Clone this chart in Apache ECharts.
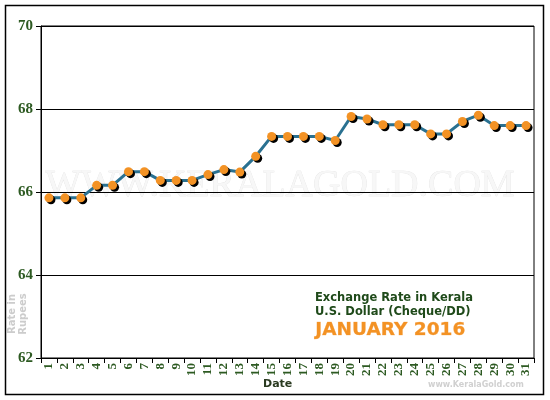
<!DOCTYPE html>
<html>
<head>
<meta charset="utf-8">
<script src="https://cdn.jsdelivr.net/npm/echarts@6/dist/echarts.min.js"></script>
<style>html,body{margin:0;padding:0;background:#fff;}#c{width:550px;height:400px;}</style>
</head>
<body>
<div id="c"></div>
<script>
var days = ['1','2','3','4','5','6','7','8','9','10','11','12','13','14','15','16','17','18','19','20','21','22','23','24','25','26','27','28','29','30','31'];
var rates = [65.86,65.86,65.86,66.16,66.16,66.49,66.49,66.28,66.28,66.28,66.42,66.54,66.48,66.86,67.34,67.34,67.34,67.34,67.24,67.82,67.76,67.62,67.62,67.62,67.40,67.40,67.70,67.85,67.60,67.60,67.60];
var yTicks = [62,64,66,68,70];

var chart = echarts.init(document.getElementById('c'));
var green = '#2d5a22';
chart.setOption({
  animation: false,
  grid: {left: 41, right: 16, top: 26, bottom: 42, show: true, borderColor: '#000', borderWidth: 1},
  xAxis: {
    type: 'category', data: days, boundaryGap: true,
    axisLine: {lineStyle: {color: '#000', width: 1}},
    axisTick: {show: true, length: 5, lineStyle: {color: '#000'}},
    axisLabel: {rotate: 90, color: green, fontFamily: 'Liberation Serif', fontWeight: 'bold', fontSize: 13, margin: 5, interval: 0}
  },
  yAxis: {
    type: 'value', min: yTicks[0], max: yTicks[yTicks.length-1], interval: 2,
    axisLine: {show: true, lineStyle: {color: '#000', width: 1}},
    axisTick: {show: true, length: 5, lineStyle: {color: '#000'}},
    splitLine: {show: true, lineStyle: {color: '#000', width: 1}},
    axisLabel: {color: green, fontFamily: 'Liberation Serif', fontWeight: 'bold', fontSize: 15, margin: 8}
  },
  graphic: [
    {type: 'rect', z: 100, shape: {x: 5.5, y: 5.5, width: 538, height: 389}, style: {fill: 'none', stroke: '#000', lineWidth: 1.5}},
    {type: 'text', z: -1, left: 45, top: 167, style: {text: 'WWW.KERALAGOLD.COM', font: '38px "Liberation Serif"', fill: '#f7f7f7', stroke: '#e2e2e2', lineWidth: 0.6}},
    {type: 'text', z: 50, left: 315, top: 292, style: {text: 'Exchange Rate in Kerala', font: 'bold 11.5px "DejaVu Sans"', fill: '#1f4a1a'}},
    {type: 'text', z: 50, left: 315, top: 306, style: {text: 'U.S. Dollar (Cheque/DD)', font: 'bold 11.5px "DejaVu Sans"', fill: '#1f4a1a'}},
    {type: 'text', z: 50, left: 315, top: 320, style: {text: 'JANUARY 2016', font: 'bold 18.5px "DejaVu Sans"', fill: '#f39224', stroke: '#f9c690', lineWidth: 0.5}},
    {type: 'text', z: 50, left: 263, top: 379, style: {text: 'Date', font: 'bold 11px "DejaVu Sans"', fill: '#2a3a20'}},
    {type: 'text', z: 50, left: 428, top: 381, style: {text: 'www.KeralaGold.com', font: 'bold 8px "DejaVu Sans"', fill: '#d0d0d0'}},
    {type: 'text', z: 50, x: 18, y: 314, rotation: Math.PI/2, style: {text: 'Rate in\nRupees', font: 'bold 10px "DejaVu Sans"', fill: '#cccccc', align: 'center', verticalAlign: 'middle', lineHeight: 11}}
  ],
  series: [{
    type: 'line', data: rates, z: 10,
    symbol: 'circle', symbolSize: 9,
    lineStyle: {color: '#2a7191', width: 3},
    itemStyle: {color: '#f39224', borderWidth: 0, shadowColor: '#000', shadowOffsetX: 2, shadowOffsetY: 2, shadowBlur: 0}
  }]
});
</script>
</body>
</html>
